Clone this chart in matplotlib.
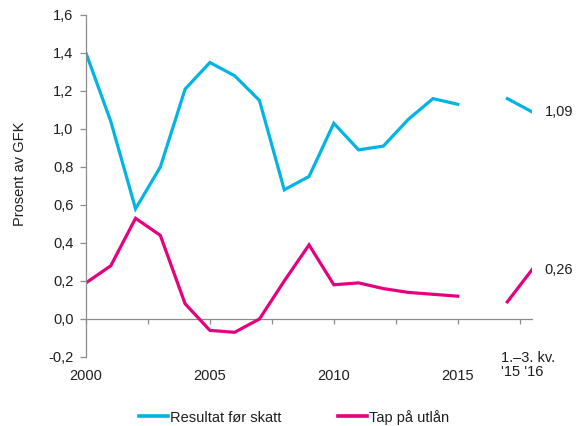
import numpy as np
import matplotlib
matplotlib.use("Agg")
import matplotlib.pyplot as plt
from matplotlib.ticker import FuncFormatter, FixedLocator

plt.rcParams['font.family'] = ['Liberation Sans', 'DejaVu Sans']
plt.rcParams['font.size'] = 10

# Annual figures, 2000-2015
years = list(range(2000, 2016))
resultat = [1.40, 1.04, 0.58, 0.80, 1.21, 1.35, 1.28, 1.15,
            0.68, 0.75, 1.03, 0.89, 0.91, 1.05, 1.16, 1.13]
tap = [0.19, 0.28, 0.53, 0.44, 0.08, -0.06, -0.07, 0.00,
       0.20, 0.39, 0.18, 0.19, 0.16, 0.14, 0.13, 0.12]

# First three quarters of 2015 and 2016
kv_periods = ["'15", "'16"]
resultat_kv = [1.16, 1.09]
tap_kv = [0.09, 0.26]

year_ticks = [2000, 2005, 2010, 2015]
kv_label = "1.\u20133. kv.\n'15 '16"

blue = '#00B4E4'
pink = '#E5007E'
axis_grey = '#8C8C8C'
text_col = '#1E1E1E'

fig = plt.figure(figsize=(5.79, 4.26), dpi=100)
ax = fig.add_axes([0.1485, 0.162, 0.919 - 0.1485, 0.9648 - 0.162])

x_years = np.array(years) - years[0]
x_kv = np.array([len(years) + 1, len(years) + 2])

lw = 2.3
ax.plot(x_years, resultat, color=blue, lw=lw, solid_joinstyle='miter')
ax.plot(x_kv, resultat_kv, color=blue, lw=lw)
ax.plot(x_years, tap, color=pink, lw=lw, solid_joinstyle='miter')
ax.plot(x_kv, tap_kv, color=pink, lw=lw)

ax.set_xlim(0, x_kv[-1])
ax.set_ylim(-0.2, 1.6)

# y axis
ax.set_yticks(np.arange(-0.2, 1.61, 0.2))
ax.yaxis.set_major_formatter(FuncFormatter(lambda v, p: f"{v:.1f}".replace('.', ',').replace('-0,0', '0,0')))
ax.tick_params(axis='y', length=4, width=0.9, color=axis_grey, pad=5,
               labelcolor=text_col, labelsize=10.5)
ax.spines['left'].set_color(axis_grey)
ax.spines['left'].set_linewidth(0.9)
for s in ['top', 'right', 'bottom']:
    ax.spines[s].set_visible(False)

# year labels along the bottom
ax.set_xticks([y - years[0] for y in year_ticks])
ax.set_xticklabels([str(y) for y in year_ticks])
ax.tick_params(axis='x', length=0, pad=9, labelcolor=text_col, labelsize=10.5)
ax.text(16.75, -0.168, kv_label, transform=ax.transData, ha='left', va='top',
        fontsize=10.5, color=text_col, linespacing=1.0, clip_on=False)

# zero line with category ticks
zero_pos = (0 - (-0.2)) / 1.8
sec = ax.secondary_xaxis(zero_pos)
sec.xaxis.set_major_locator(FixedLocator(np.arange(0, 18, 2.5)))
sec.set_xticklabels([])
sec.tick_params(axis='x', direction='out', length=3.5, width=0.9, color=axis_grey)
sec.spines['bottom'].set_color(axis_grey)
sec.spines['bottom'].set_linewidth(0.9)

# end-point labels
ax.text(x_kv[-1] + 0.5, resultat_kv[-1], f"{resultat_kv[-1]:.2f}".replace('.', ','),
        ha='left', va='center', color=text_col, fontsize=10.5)
ax.text(x_kv[-1] + 0.5, tap_kv[-1], f"{tap_kv[-1]:.2f}".replace('.', ','),
        ha='left', va='center', color=text_col, fontsize=10.5)

fig.text(20 / 579, 1 - 174 / 426, 'Prosent av GFK', rotation=90,
         ha='center', va='center', color=text_col, fontsize=10.5)

handles = [plt.Line2D([], [], color=blue, lw=2.6),
           plt.Line2D([], [], color=pink, lw=2.6)]
fig.legend(handles, ['Resultat før skatt', 'Tap på utlån'], loc='center',
           bbox_to_anchor=(0.508, 0.021), ncol=2, frameon=False,
           handlelength=2.0, handletextpad=0.1, columnspacing=3.9,
           fontsize=10.5, labelcolor=text_col)

fig.savefig('out.png', dpi=100)
